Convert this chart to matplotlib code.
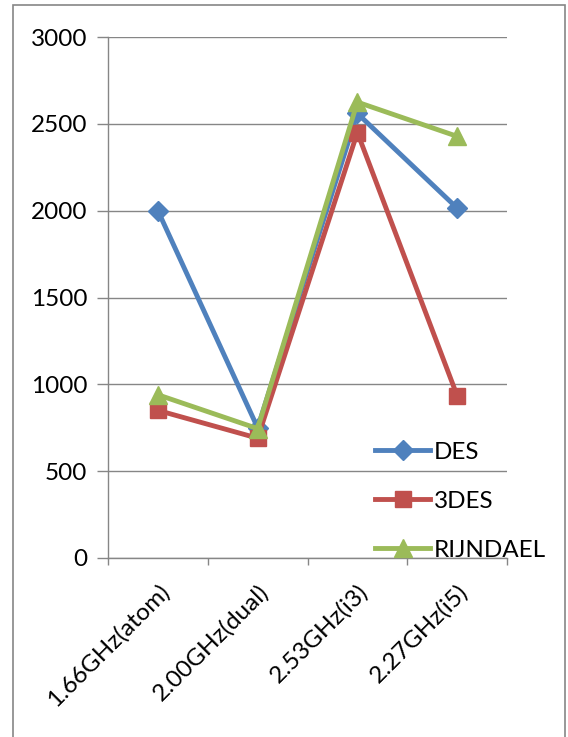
import matplotlib
matplotlib.use("Agg")
import matplotlib.pyplot as plt
from matplotlib.patches import Rectangle
from matplotlib.ticker import FixedLocator

categories = ["1.66GHz(atom)", "2.00GHz(dual)", "2.53GHz(i3)", "2.27GHz(i5)"]
des = [2000, 750, 2560, 2015]
des3 = [850, 690, 2450, 935]
rijndael = [940, 745, 2625, 2428]
y_ticks = [0, 500, 1000, 1500, 2000, 2500, 3000]

plt.rcParams["font.family"] = ["Lato", "DejaVu Sans"]

W, H = 568, 737
fig = plt.figure(figsize=(W / 100, H / 100), dpi=100)
fig.patch.set_facecolor("white")

# outer chart frame
fig.patches.append(Rectangle((13 / W, -0.02), (565 - 13) / W, 1.02 - 5 / H,
                             transform=fig.transFigure, fill=False,
                             edgecolor="#868686", linewidth=1.2))

ax = fig.add_axes([108 / W, 1 - 558 / H, (507 - 108) / W, (558 - 37) / H])
x = list(range(1, len(categories) + 1))

gray = "#868686"
ax.plot(x, des, color="#4F81BD", lw=3.5, marker="D", ms=10, label="DES", zorder=3)
ax.plot(x, des3, color="#C0504D", lw=3.5, marker="s", ms=11, label="3DES", zorder=3)
ax.plot(x, rijndael, color="#9BBB59", lw=3.5, marker="^", ms=13, label="RIJNDAEL", zorder=3)

ax.set_xlim(0.5, len(categories) + 0.5)
ax.set_ylim(0, 3000)
ax.set_yticks(y_ticks)
ax.yaxis.grid(True, color=gray, lw=1)
ax.set_axisbelow(True)

ax.set_xticks(x)
ax.set_xticklabels(categories, rotation=45, ha="right", va="top",
                   rotation_mode="anchor", fontsize=17.5)
ax.xaxis.set_minor_locator(FixedLocator([i + 0.5 for i in range(len(categories) + 1)]))
ax.tick_params(axis="x", which="major", length=0, pad=16)
ax.tick_params(axis="x", which="minor", length=5, color=gray, width=1)
ax.tick_params(axis="y", length=8, color=gray, width=1, pad=7, labelsize=17.5)

for s in ("top", "right"):
    ax.spines[s].set_visible(False)
for s in ("left", "bottom"):
    ax.spines[s].set_color(gray)
    ax.spines[s].set_linewidth(1)

ax.legend(loc="lower left", bbox_to_anchor=(0.645, -0.0235), frameon=False,
          fontsize=17.5, handlelength=2.26, handletextpad=0.15, labelspacing=1.15,
          borderaxespad=0)

fig.savefig("out.png", dpi=100, facecolor="white")
